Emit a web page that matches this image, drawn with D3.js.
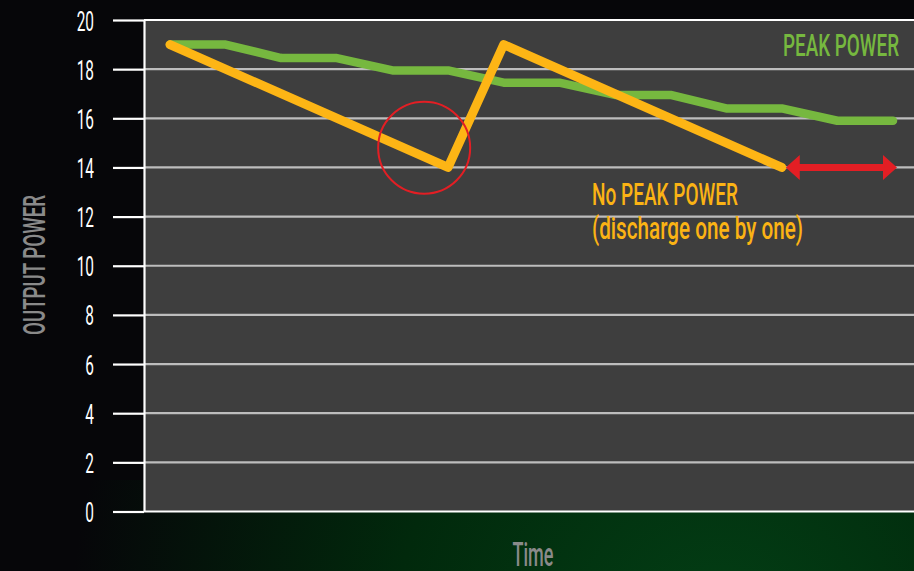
<!DOCTYPE html>
<html>
<head>
<meta charset="utf-8">
<script src="https://cdn.jsdelivr.net/npm/d3@7"></script>
<style>
  html, body { margin: 0; padding: 0; background: #060609; }
  svg { display: block; }
  text { font-family: Roboto, "DejaVu Sans", sans-serif; }
</style>
</head>
<body>
<div id="chart"></div>
<script>
// time steps on the x axis (no tick labels in the picture)
var timeSteps = [0, 1, 2, 3, 4, 5, 6, 7, 8, 9, 10, 11, 12, 13];
// peak power curve: slow step-down
var peakValues = [19, 19, 18.45, 18.45, 17.95, 17.95, 17.45, 17.45, 16.95, 16.95, 16.4, 16.4, 15.9, 15.9];
// no peak power: discharge one by one (vertices only)
var noPeakTimes = [0, 5, 6, 11];
var noPeakValues = [19, 14, 19, 14];
var yTicks = [0, 2, 4, 6, 8, 10, 12, 14, 16, 18, 20];
// annotations
var arrowFrom = 11, arrowTo = 13, arrowValue = 14;
var circleTime = 4.57, circleValue = 14.8;

var W = 914, H = 571;

var svg = d3.select("#chart").append("svg")
	.attr("width", W)
	.attr("height", H);

var defs = svg.append("defs");
var glow = defs.append("radialGradient")
	.attr("id", "glow")
	.attr("gradientUnits", "userSpaceOnUse")
	.attr("cx", 720).attr("cy", 640).attr("r", 650);
glow.append("stop").attr("offset", "0%").attr("stop-color", "#033f15");
glow.append("stop").attr("offset", "50%").attr("stop-color", "#01290c");
glow.append("stop").attr("offset", "100%").attr("stop-color", "#060609");

svg.append("rect").attr("width", W).attr("height", H).attr("fill", "#060609");
svg.append("rect").attr("x", 0).attr("y", 480).attr("width", W).attr("height", H - 480).attr("fill", "url(#glow)");

var x = d3.scaleLinear().domain([0, 13]).range([170, 893]);
var y = d3.scaleLinear().domain([0, 20]).range([511.5, 20]);

var plotLeft = 144, plotRight = W;

// plot background
svg.append("rect")
	.attr("x", plotLeft)
	.attr("y", y(20))
	.attr("width", plotRight - plotLeft)
	.attr("height", y(0) - y(20))
	.attr("fill", "#3e3e3e");

// gridlines
svg.append("g").selectAll("line")
	.data(yTicks)
	.enter().append("line")
	.attr("x1", plotLeft).attr("x2", plotRight)
	.attr("y1", function(d) { return y(d); })
	.attr("y2", function(d) { return y(d); })
	.attr("stroke", function(d) { return (d == 0 || d == 20) ? "#ffffff" : "#bdbdbd"; })
	.attr("stroke-width", 2.2);

function condense(sel, f) {
	sel.each(function() {
		var w = this.getComputedTextLength();
		d3.select(this).attr("textLength", w * f).attr("lengthAdjust", "spacingAndGlyphs");
	});
}

// y axis
var axis = svg.append("g")
	.attr("transform", "translate(" + plotLeft + ",0)")
	.call(d3.axisLeft(y).tickValues(yTicks).tickSize(31).tickSizeOuter(0).tickPadding(19));
axis.select(".domain").attr("stroke", "#ffffff").attr("stroke-width", 2.2);
axis.selectAll(".tick line").attr("stroke", "#ffffff").attr("stroke-width", 2.2);
axis.selectAll(".tick text")
	.attr("fill", "#ffffff")
	.attr("font-size", 28)
	.attr("font-weight", 400)
	.attr("dy", "0.36em")
	.call(condense, 0.55);

// peak power line
var line = d3.line()
	.x(function(d) { return x(d[0]); })
	.y(function(d) { return y(d[1]); });

svg.append("path")
	.datum(timeSteps.map(function(t, i) { return [t, peakValues[i]]; }))
	.attr("d", line)
	.attr("fill", "none")
	.attr("stroke", "#76b83f")
	.attr("stroke-width", 8.5)
	.attr("stroke-linejoin", "round")
	.attr("stroke-linecap", "round");

svg.append("path")
	.datum(noPeakTimes.map(function(t, i) { return [t, noPeakValues[i]]; }))
	.attr("d", line)
	.attr("fill", "none")
	.attr("stroke", "#fdb515")
	.attr("stroke-width", 9)
	.attr("stroke-linejoin", "round")
	.attr("stroke-linecap", "round");

// red circle
svg.append("circle")
	.attr("cx", x(circleTime))
	.attr("cy", y(circleValue))
	.attr("r", 46)
	.attr("fill", "none")
	.attr("stroke", "#e31e24")
	.attr("stroke-width", 2);

// red double arrow
var ax1 = x(arrowFrom) + 4, ax2 = x(arrowTo) + 4, ay = y(arrowValue);
var head = 14, hh = 12.5, sh = 3.5;
svg.append("path")
	.attr("d", "M" + ax1 + "," + ay +
		"L" + (ax1 + head) + "," + (ay - hh) +
		"L" + (ax1 + head) + "," + (ay - sh) +
		"L" + (ax2 - head) + "," + (ay - sh) +
		"L" + (ax2 - head) + "," + (ay - hh) +
		"L" + ax2 + "," + ay +
		"L" + (ax2 - head) + "," + (ay + hh) +
		"L" + (ax2 - head) + "," + (ay + sh) +
		"L" + (ax1 + head) + "," + (ay + sh) +
		"L" + (ax1 + head) + "," + (ay + hh) + "Z")
	.attr("fill", "#e31e24");

// labels
function label(txt, px, py, size, color, width, anchor, weight) {
	return svg.append("text")
		.attr("x", px).attr("y", py)
		.attr("font-size", size)
		.attr("font-weight", weight || 500)
		.attr("fill", color)
		.attr("text-anchor", anchor || "start")
		.attr("textLength", width)
		.attr("lengthAdjust", "spacingAndGlyphs")
		.text(txt);
}

label("PEAK POWER", 783, 56, 32, "#76b83f", 116);
label("No PEAK POWER", 592, 205, 31, "#fbb314", 146);
label("(discharge one by one)", 592, 239, 31, "#fbb314", 211);
label("Time", 533, 566, 33, "#8a8a8a", 41, "middle");

svg.append("text")
	.attr("transform", "translate(45,265) rotate(-90)")
	.attr("font-size", 32)
	.attr("font-weight", 500)
	.attr("fill", "#8a8a8a")
	.attr("text-anchor", "middle")
	.attr("textLength", 140)
	.attr("lengthAdjust", "spacingAndGlyphs")
	.text("OUTPUT POWER");
</script>
</body>
</html>
